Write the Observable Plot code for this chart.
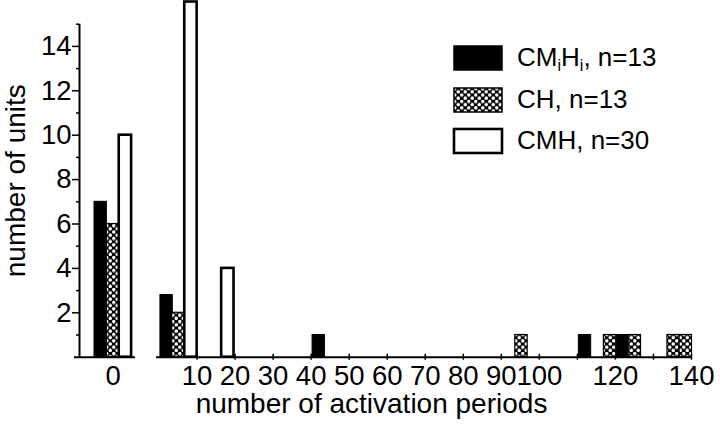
<!DOCTYPE html>
<html><head><meta charset="utf-8">
<script src="https://cdn.jsdelivr.net/npm/d3@7"></script>
<script src="https://cdn.jsdelivr.net/npm/@observablehq/plot@0.6"></script>
<style>
body{margin:0;background:#fff;font-family:"Liberation Sans",Arial,Helvetica,sans-serif;}
#chart{position:relative;width:720px;height:430px;display:flex;overflow:hidden;}
#chart svg{overflow:visible;}
#legend{position:absolute;left:453px;top:0;font-size:26px;color:#000;}
.row{position:absolute;left:0;height:26px;display:flex;align-items:center;white-space:nowrap;}
.row svg{display:block;margin-right:14px;}
.sub{font-size:0.62em;position:relative;top:0.3em;}
</style></head><body>
<svg width="0" height="0" style="position:absolute">
  <defs>
    <pattern id="dots" width="7" height="6.4" patternUnits="userSpaceOnUse">
      <rect width="7" height="6.4" fill="#000"></rect>
      <circle cx="1.75" cy="1.6" r="1.75" fill="#fff"></circle>
      <circle cx="5.25" cy="4.8" r="1.75" fill="#fff"></circle>
    </pattern>
  </defs>
</svg>
<div id="chart"><div id="legend"></div></div>
<script>
// ---- data ----
const seriesNames = ["CMiHi", "CH", "CMH"];
const seriesN = [13, 13, 30];
const zeroLabel = "0";
const zeroCounts = [7, 6, 10];           // units with 0 activation periods, per series
const cmihiPeriods = [2, 42, 112, 122];
const cmihiUnits   = [2.8, 1, 1, 1];
const chPeriods = [5.1, 95.3, 118.6, 125.1, 135.3, 138.5];
const chUnits   = [2, 1, 1, 1, 1, 1];
const cmhPeriods = [8.4, 18.1];
const cmhUnits   = [16, 4];
const xTickValues = [10, 20, 30, 40, 50, 60, 70, 80, 90, 100, 110, 120, 130, 140];
const xTickLabels = [10, 20, 30, 40, 50, 60, 70, 80, 90, 100, 120, 140];
const yMajorTicks = [2, 4, 6, 8, 10, 12, 14];
const yMinorTicks = [1, 3, 5, 7, 9, 11, 13, 15];
const yLabel = "number of units";
const xLabel = "number of activation periods";

// ---- styles ----
const fills = {CMiHi: "#000", CH: "url(#dots)", CMH: "#fff"};
const strokeWidths = {CMiHi: 1, CH: 1.2, CMH: 2.6};
const barWidth = 3.25;   // in activation-period units
const font = '"Liberation Sans", Arial, Helvetica, sans-serif';
const tickFont = 27.5;

const rows = [];
[[cmihiPeriods, cmihiUnits, "CMiHi"], [chPeriods, chUnits, "CH"], [cmhPeriods, cmhUnits, "CMH"]]
  .forEach(([p, u, s]) => p.forEach((v, i) => rows.push({series: s, period: v, units: u[i]})));
const zeroRows = zeroCounts.map((c, i) => ({series: seriesNames[i], slot: i, units: c}));

const H = 430, MT = 23.7, MB = 430 - 356.7;
const yOpts = {domain: [0, 15], axis: null};
const leftDomain = [-1.214, 3.317];

const barMarks = (data, x1, x2) => seriesNames.map(s =>
  Plot.rectY(data.filter(d => d.series === s), {
    x1, x2, y: "units", fill: fills[s], stroke: "#000", strokeWidth: strokeWidths[s]
  }));

const left = Plot.plot({
  width: 136, height: H, marginLeft: 79, marginRight: 1, marginTop: MT, marginBottom: MB,
  x: {domain: leftDomain, axis: null}, y: yOpts,
  style: {fontFamily: font, color: "#000", background: "transparent"},
  marks: [
    Plot.ruleY([0], {stroke: "#000", strokeWidth: 2, insetLeft: -5}),
    Plot.ruleX([leftDomain[0]], {y1: 0, y2: 15, stroke: "#000", strokeWidth: 2}),
    Plot.axisY({ticks: yMajorTicks, tickSize: 7, tickPadding: 1, fontSize: tickFont, label: null, strokeWidth: 1.5}),
    Plot.axisY({ticks: yMinorTicks, tickSize: 3, tickFormat: () => "", label: null, strokeWidth: 1.5}),
    ...barMarks(zeroRows, d => d.slot, d => d.slot + 1),
    Plot.axisX({ticks: [1.5], tickSize: 0, tickPadding: 8, tickFormat: () => zeroLabel, fontSize: tickFont, label: null}),
    Plot.text([yLabel], {frameAnchor: "left", textAnchor: "middle", lineAnchor: "middle", rotate: -90, dx: -63, dy: -10, fontSize: 28, fill: "#000"})
  ]
});

const right = Plot.plot({
  width: 584, height: H, marginLeft: 22.5, marginRight: 29, marginTop: MT, marginBottom: MB,
  x: {domain: [0, 140], axis: null}, y: yOpts,
  style: {fontFamily: font, color: "#000", background: "transparent"},
  marks: [
    Plot.ruleY([0], {stroke: "#000", strokeWidth: 2, insetLeft: -2.5, insetRight: -1}),
    Plot.ruleX(xTickValues, {y1: 0, y2: 0, insetTop: -3, insetBottom: -3, stroke: "#000", strokeWidth: 1.5}),
    Plot.axisX({ticks: xTickLabels, tickSize: 0, tickPadding: 8, fontSize: tickFont, label: null, tickFormat: d => String(d)}),
    ...barMarks(rows, d => d.period - barWidth / 2, d => d.period + barWidth / 2),
    Plot.text([xLabel], {frameAnchor: "bottom", textAnchor: "middle", lineAnchor: "middle", dx: -53.75, dy: 47.3, fontSize: 28, fill: "#000"})
  ]
});

const chart = document.getElementById("chart");
chart.insertBefore(right, chart.firstChild);
chart.insertBefore(left, right);

// legend
const legendLabels = [
  `CM<span class="sub">i</span>H<span class="sub">i</span>, n=${seriesN[0]}`,
  `CH, n=${seriesN[1]}`,
  `CMH, n=${seriesN[2]}`
];
const legend = d3.select("#legend");
const rowTops = [44.5, 86.5, 127.5];
seriesNames.forEach((s, i) => {
  const r = legend.append("div").attr("class", "row").style("top", rowTops[i] + "px");
  const sw = r.append("svg").attr("width", 50).attr("height", 26);
  sw.append("rect").attr("x", 1).attr("y", 1).attr("width", 48).attr("height", 24)
    .attr("fill", fills[s]).attr("stroke", "#000").attr("stroke-width", s === "CMH" ? 2.6 : 1.5);
  r.append("span").html(legendLabels[i]);
});
</script>
</body></html>
